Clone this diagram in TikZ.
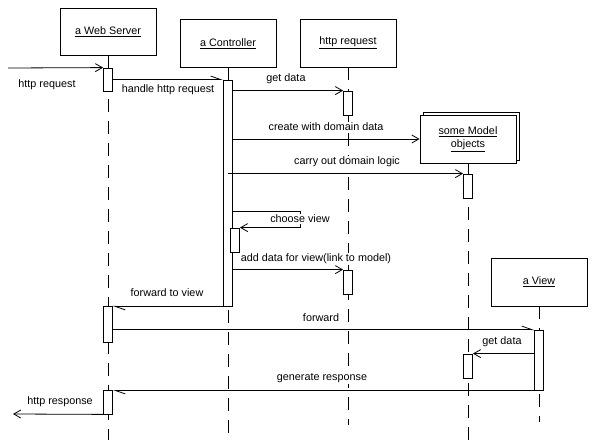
\documentclass[tikz,border=0pt]{standalone}
\usepackage{fontspec}
\setmainfont{Liberation Sans}
\usetikzlibrary{arrows.meta}

\begin{document}
\begin{tikzpicture}[x=1pt,y=-1pt,line width=0.8pt,
                obj/.style={draw,fill=white,minimum width=96pt,minimum height=48pt},
                act/.style={draw,fill=white,minimum width=9pt},
                life/.style={dash pattern=on 13pt off 9pt},
                sync/.style={-{Straight Barb[length=7pt,width=8pt]}},
                async/.style={-{Straight Barb[harpoon,length=10pt,width=7pt]}},
                lbl/.style={fill=white,inner sep=1pt}]
                \tikzstyle{every node}+=[inner sep=0pt,font=\fontsize{10.8}{13}\selectfont]
                \useasboundingbox (0,0) rectangle (597,446);
                \node [obj,minimum height=47pt] (web) at (108,31.5) {\underline{a Web Server}};
                \node [obj] (ctlbox) at (228,43.5) {\underline{a Controller}};
                \node [obj] (req) at (348,43) {\underline{http request}};
                \node [obj] (modelb) at (471,136) {};
                \node [obj,align=center] (model) at (468,139) {\underline{some Model}\\\underline{objects}};
                \node [obj] (view) at (539,282) {\underline{a View}};
                \coordinate (webend) at (108,440);
                \coordinate (ctlend) at (228,435);
                \coordinate (reqend) at (348,425);
                \coordinate (modelend) at (468,440);
                \coordinate (viewend) at (539,422);
                \draw [black,life] (web.south) -- (webend);
                \draw [black,life] (ctlbox.south) -- (ctlend);
                \draw [black,life] (req.south) -- (reqend);
                \draw [black,life] (model.south) -- (modelend);
                \draw [black,life] (view.south) -- (viewend);
                \node [act,minimum height=23pt] (ws1) at (108,79.5) {};
                \node [act,minimum height=226pt] (ctl) at (228,193) {};
                \node [act,minimum height=24pt] (hr1) at (348,103) {};
                \node [act,minimum height=24pt] (md1) at (468,186) {};
                \node [act,minimum height=24pt] (ctl2) at (235,240) {};
                \node [act,minimum height=24pt] (hr2) at (348,282) {};
                \node [act,minimum height=36pt] (ws2) at (108,324) {};
                \node [act,minimum height=60pt] (vw1) at (539,360) {};
                \node [act,minimum height=24pt] (md2) at (468,366) {};
                \node [act,minimum height=24pt] (ws3) at (108,402) {};
                \coordinate (in) at (8,68);
                \draw [black,sync] (in) -- (ws1.north west);
                \draw [black,async] (ctl.north west -| ws1.east) -- (ctl.north west);
                \draw [black,sync] (hr1.north west -| ctl.east) -- (hr1.north west);
                \draw [black,sync] (model.west -| ctl.east) -- (model.west);
                \draw [black,sync] (md1.north west -| ctl) -- (md1.north west);
                \coordinate (turn) at (300,211);
                \draw [black,sync] (ctl.east |- turn) -- (turn) -- (turn |- ctl2.north east) -- (ctl2.north east);
                \draw [black,sync] (hr2.north west -| ctl.east) -- (hr2.north west);
                \draw [black,async] (ctl.south west) -- (ctl.south west -| ws2.east);
                \draw [black,async] (vw1.north west -| ws2.east) -- (vw1.north west);
                \draw [black,sync] (md2.north east -| vw1.west) -- (md2.north east);
                \draw [black,async] (vw1.south west) -- (vw1.south west -| ws3.east);
                \coordinate (out) at (13,414);
                \draw [black,sync] (ws3.south west) -- (out);
                \node [lbl] (l1) at (47,85) {http request};
                \node [lbl] (l2) at (168,90) {handle http request};
                \node [lbl] (l3) at (286,79) {get data};
                \node [lbl] (l4) at (326,127) {create with domain data};
                \node [lbl] (l5) at (347,162) {carry out domain logic};
                \node [lbl] (l6) at (300,219) {choose view};
                \node [lbl] (l7) at (316,259) {add data for view(link to model)};
                \node [lbl] (l8) at (167,293) {forward to view};
                \node [lbl] (l9) at (321,318) {forward};
                \node [lbl] (l10) at (502,342) {get data};
                \node [lbl] (l11) at (322,378) {generate response};
                \node [lbl] (l12) at (60,402) {http response};
              \end{tikzpicture}
\end{document}
